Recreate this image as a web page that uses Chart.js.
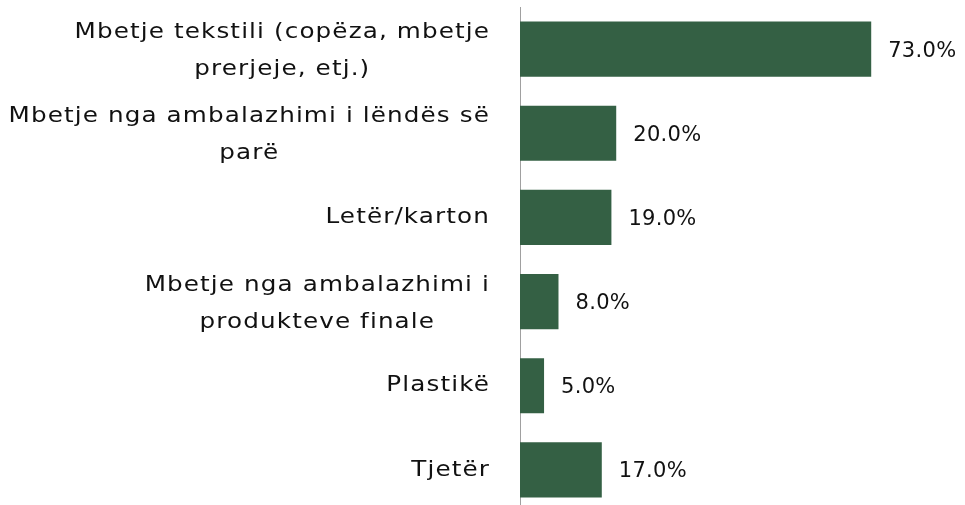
<!DOCTYPE html>
<html>
<head>
<meta charset="utf-8">
<script src="https://cdn.jsdelivr.net/npm/chart.js@4/dist/chart.umd.min.js"></script>
<style>
  html, body { margin: 0; padding: 0; background: #fff; overflow: hidden; }
  #wrap { position: relative; width: 965px; height: 512px; }
</style>
</head>
<body>
<div id="wrap"><canvas id="mbetjet"></canvas></div>
<script>
// labels split into lines as in the reference
var Kategorite = [
    ["Mbetje tekstili (copëza, mbetje", "prerjeje, etj.)"],
    ["Mbetje nga ambalazhimi i lëndës së", "parë"],
    ["Letër/karton"],
    ["Mbetje nga ambalazhimi i", "produkteve finale"],
    ["Plastikë"],
    ["Tjetër"]
];
var Perqindjet = [73, 20, 19, 8, 5, 17];

var fontFamily = "'DejaVu Sans', 'Noto Sans', sans-serif";
var shtrirje = 1.12; // horizontal stretch, the original font is wider

// draw left labels: block right aligned, lines centred within block
const labelsMajtas = {
    id: 'labelsMajtas',
    afterDraw(chart) {
        const ctx = chart.ctx;
        const yScale = chart.scales.y;
        const rightEdge = 490;
        const lineH = 37;
        ctx.save();
        ctx.font = "22px " + fontFamily;
        ctx.letterSpacing = "1px";
        ctx.fillStyle = '#111';
        ctx.textBaseline = 'middle';
        ctx.textAlign = 'center';
        Kategorite.forEach((lines, i) => {
            const y = yScale.getPixelForValue(i) + (lines.length > 1 ? 2 : 0);
            const w = Math.max(...lines.map(l => ctx.measureText(l).width)) * shtrirje;
            const cx = rightEdge - w / 2;
            const top = y - (lines.length - 1) * lineH / 2;
            lines.forEach((l, j) => {
                ctx.save();
                ctx.translate(cx, top + j * lineH);
                ctx.scale(shtrirje, 1);
                ctx.fillText(l, 0, 0);
                ctx.restore();
            });
        });
        ctx.restore();
    }
};

// value labels after bars
const vlerat = {
    id: 'vlerat',
    afterDatasetsDraw(chart) {
        const ctx = chart.ctx;
        const meta = chart.getDatasetMeta(0);
        ctx.save();
        ctx.font = "21px " + fontFamily;
        ctx.letterSpacing = "0.3px";
        ctx.fillStyle = '#111';
        ctx.textBaseline = 'middle';
        ctx.textAlign = 'left';
        meta.data.forEach((bar, i) => {
            ctx.fillText(Perqindjet[i].toFixed(1) + '%', bar.x + 17, bar.y + 2);
        });
        ctx.restore();
    }
};

const grafiku = new Chart(document.getElementById('mbetjet').getContext('2d'), {
    type: 'bar',
    data: {
        labels: Kategorite.map(l => l.join(' ')),
        datasets: [{
            data: Perqindjet,
            backgroundColor: '#346044',
            barPercentage: 0.655,
            categoryPercentage: 1
        }]
    },
    options: {
        indexAxis: 'y',
        responsive: true,
        maintainAspectRatio: false,
        animation: false,
        layout: { padding: { left: 0, right: 12, top: 7, bottom: 0 } },
        plugins: {
            legend: { display: false },
            tooltip: { enabled: false }
        },
        scales: {
            x: {
                min: 0,
                max: 90,
                display: false
            },
            y: {
                afterFit(scale) { scale.width = 520; },
                grid: { display: false, drawTicks: false },
                border: { display: true, color: '#a0a0a0', width: 1 },
                ticks: { display: false }
            }
        }
    },
    plugins: [labelsMajtas, vlerat]
});
</script>
</body>
</html>
